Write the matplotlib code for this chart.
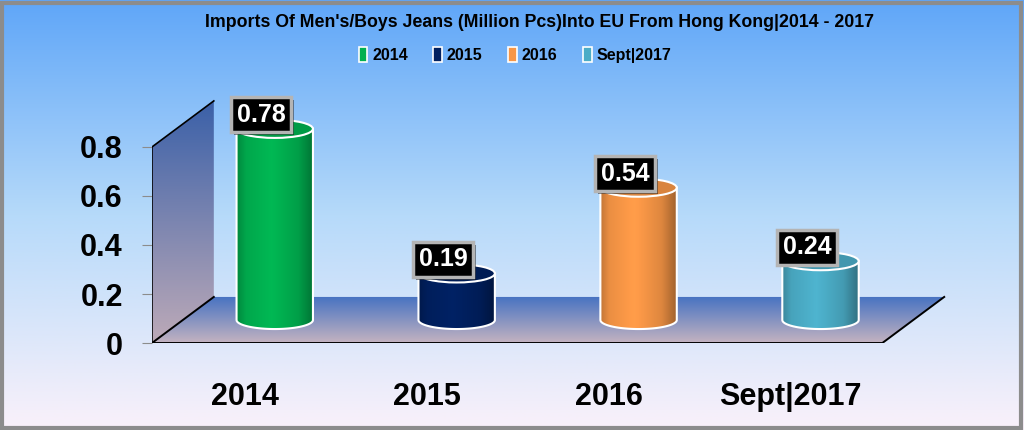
import numpy as np
import matplotlib
matplotlib.use('Agg')
import matplotlib.pyplot as plt
import matplotlib.patheffects as pe
from matplotlib.patches import Polygon, Ellipse, Rectangle, Patch
from matplotlib.colors import to_rgb

# data
categories = ['2014', '2015', '2016', 'Sept|2017']
values = [0.78, 0.19, 0.54, 0.24]
colors = ['#00b050', '#002060', '#f79646', '#4bacc6']
yticks = [0, 0.2, 0.4, 0.6, 0.8]
ytick_labels = ['0', '0.2', '0.4', '0.6', '0.8']
title = "Imports Of Men's/Boys Jeans (Million Pcs)Into EU From Hong Kong|2014 - 2017"

plt.rcParams['font.family'] = ['Liberation Sans', 'DejaVu Sans']
plt.rcParams['font.weight'] = 'bold'

fig = plt.figure(figsize=(10.24, 4.3), dpi=100)

# background gradient over the whole figure
bg = fig.add_axes([0, 0, 1, 1], zorder=-10)
top, mid, bot = np.array(to_rgb('#5fa6f8')), np.array(to_rgb('#b6dafa')), np.array(to_rgb('#faf1fa'))
t = np.linspace(0, 1, 256)[:, None]
grad = np.where(t < 0.5, top + (mid - top) * (t / 0.5), mid + (bot - mid) * ((t - 0.5) / 0.5))
bg.imshow(grad[:, None, :].repeat(2, axis=1), aspect='auto', extent=[0, 1, 0, 1])
bg.set_xlim(0, 1)
bg.set_ylim(0, 1)
bg.axis('off')
bg.add_patch(Rectangle((0.002, 0.004), 0.995, 0.99, fill=False, ec='#8c8c8c', lw=3))

# main axes, laid out so one category step and one value unit map to the reference scale
x0, x1 = -0.51, 3.875
ax = fig.add_axes([0.1484, 0.2023, 0.779, 0.5767])
ax.set_xlim(x0, x1)
ax.set_ylim(0, 1.012)
ax.patch.set_alpha(0)

dx, dy = 0.34, 0.188      # depth of the box
xr = 3.505                # front-right of the floor
ymax = 0.8


def gradient_fill(poly_xy, c_top, c_bot, ext, z):
    patch = Polygon(poly_xy, closed=True, fc='none', ec='none')
    ax.add_patch(patch)
    a, b = np.array(to_rgb(c_top)), np.array(to_rgb(c_bot))
    s = np.linspace(0, 1, 128)[:, None]
    img = (a + (b - a) * s)[:, None, :].repeat(2, axis=1)
    im = ax.imshow(img, aspect='auto', extent=ext, zorder=z, origin='upper')
    im.set_clip_path(patch)


# back wall
wall = [(x0, 0), (x0, ymax), (x0 + dx, ymax + dy), (x0 + dx, dy)]
gradient_fill(wall, '#3a60a8', '#bdaab8', [x0, x0 + dx, 0, ymax + dy], 1)
ax.plot([x0, x0, x0 + dx], [0, ymax, ymax + dy], color='black', lw=1.2, zorder=2)

# floor
floor = [(x0, 0), (x0 + dx, dy), (xr + dx, dy), (xr, 0)]
gradient_fill(floor, '#4672c2', '#c4b3c0', [x0, xr + dx, 0, dy], 1)
ax.plot([x0 + dx, x0, xr, xr + dx], [dy, 0, 0, dy], color='black', lw=1.4, zorder=2)

# cylinders
w = 0.42
eh = 0.074
base = dy / 2
for i, (v, c) in enumerate(zip(values, colors)):
    xc = i + dx / 2 - 0.005
    left, right = xc - w / 2, xc + w / 2
    topy = base + v
    th = np.linspace(np.pi, 2 * np.pi, 60)
    verts = [(left, topy)] + [(xc + w / 2 * np.cos(a), base + eh / 2 * np.sin(a)) for a in th] + [(right, topy), (left, topy)]
    body = Polygon(verts, closed=True, fc='none', ec='white', lw=1.5, zorder=4)
    ax.add_patch(body)
    s = np.linspace(0, 1, 200)
    shade = np.interp(s, [0, 0.12, 0.45, 0.8, 1], [0.78, 0.95, 1.05, 0.9, 0.65])
    rgb = np.clip(np.array(to_rgb(c))[None, :] * shade[:, None], 0, 1)
    im = ax.imshow(rgb[None, :, :].repeat(2, axis=0), aspect='auto',
                   extent=[left, right, base - eh / 2, topy], zorder=3)
    im.set_clip_path(body)
    topc = np.clip(np.array(to_rgb(c)) * 0.88, 0, 1)
    ax.add_patch(Ellipse((xc, topy), w, eh, fc=topc, ec='white', lw=1.5, zorder=5))
    txt = ax.text(xc - 0.075, topy + 0.057, f'{v:.2f}', color='white', fontsize=18,
                  fontweight='bold', ha='center', va='center', zorder=6,
                  bbox=dict(boxstyle='square,pad=0.22', fc='black', ec='#b4b4b4', lw=2.5))
    txt.get_bbox_patch().set_path_effects([pe.SimplePatchShadow(offset=(2, -2), alpha=0.5), pe.Normal()])

# axes styling
for sp in ['top', 'right', 'bottom', 'left']:
    ax.spines[sp].set_visible(False)
ax.set_yticks(yticks)
ax.set_yticklabels(ytick_labels)
ax.tick_params(axis='y', length=7, color='#8c8c8c', labelsize=22, pad=14)
ax.set_xticks(range(len(categories)))
ax.set_xticklabels(categories)
ax.tick_params(axis='x', length=0, labelsize=22, pad=28)

fig.text(0.527, 0.948, title, ha='center', va='center', fontsize=12.8, fontweight='bold')

handles = [Patch(fc=c, ec='white', lw=1.2) for c in colors]
fig.legend(handles, categories, loc='center', bbox_to_anchor=(0.503, 0.872), ncol=4,
           frameon=False, prop={'size': 11.5, 'weight': 'bold'}, handlelength=0.55,
           handleheight=1.0, handletextpad=0.3, columnspacing=1.6)

fig.savefig('out.png', dpi=100)
